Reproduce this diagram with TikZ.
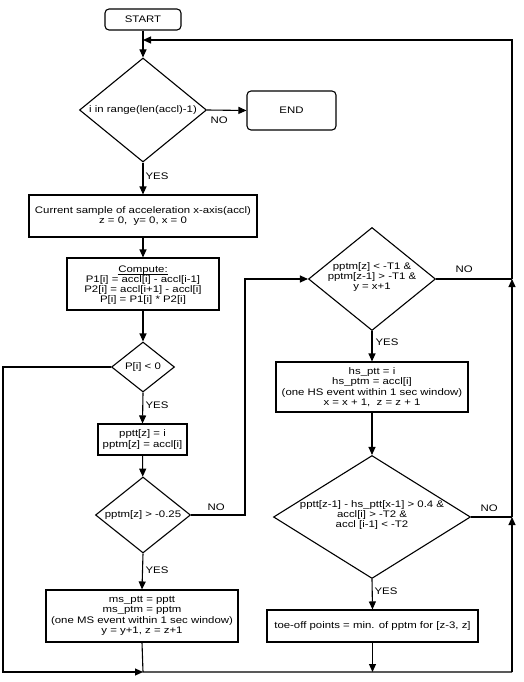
\documentclass[tikz,border=0pt]{standalone}
\usepackage{fontspec}
\setmainfont{Liberation Sans}[FakeStretch=1.2]
\usetikzlibrary{shapes.geometric,arrows.meta}
\begin{document}
\begin{tikzpicture}[x=1pt,y=-1pt,
  font=\fontsize{9.5}{10.4}\selectfont,
  line width=1.1pt,
  box/.style={draw, rectangle, inner sep=0pt, align=center},
  term/.style={draw, rectangle, rounded corners=4pt, inner sep=0pt},
  dia/.style={draw, diamond, inner sep=0pt},
  txt/.style={inner sep=0pt, align=center},
  bl/.style={inner sep=0pt, anchor=base},
  lbl/.style={inner sep=0pt, anchor=west},
  arr/.style={-{Triangle[length=8pt,width=7pt]}}]
\useasboundingbox (0,0) rectangle (524,682);

% nodes
\node[term, minimum width=76pt, minimum height=21pt] (start) at (143,19.5) {START};
\node[dia, minimum width=127pt, minimum height=104pt] (d1) at (143,110) {};
\node[txt] (d1t) at (d1) {i in range(len(accl)-1)};
\node[term, minimum width=89pt, minimum height=39pt] (end) at (291.5,110.5) {END};
\node[box, minimum width=228pt, minimum height=42pt] (b1) at (143,216)
  {Current sample of acceleration x-axis(accl)\\z = 0,\ \ y= 0, x = 0};
\node[box, minimum width=152pt, minimum height=52pt] (comp) at (143,284) {};
\node[bl] (compt) at (143,272.5) {Compute:};
\draw[line width=0.6pt] ([yshift=-1.3pt]compt.base west) -- ([yshift=-1.3pt]compt.base east);
\node[bl] (compb1) at (143,282.5) {P1[i] = accl[i] - accl[i-1]};
\node[bl] (compb2) at (143,292.5) {P2[i] = accl[i+1] - accl[i]};
\node[bl] (compb3) at (143,302.5) {P[i] = P1[i] * P2[i]};
\node[dia, minimum width=63pt, minimum height=50pt] (d2) at (143,367) {};
\node[txt] (d2t) at (d2) {P[i] < 0};
\node[box, minimum width=89pt, minimum height=31pt] (pptt) at (142.5,439.5)
  {pptt[z] = i\\pptm[z] = accl[i]};
\node[dia, minimum width=95pt, minimum height=76pt] (d3) at (143,515) {};
\node[txt] (d3t) at (d3) {pptm[z] > -0.25};
\node[box, minimum width=192pt, minimum height=52pt] (ms) at (142,616)
  {ms\_ptt = pptt\\ms\_ptm = pptm\\(one MS event within 1 sec window)\\y = y+1, z = z+1};
\node[dia, minimum width=127pt, minimum height=103pt] (d4) at (372,279) {};
\node[txt] (d4t) at (372,277) {pptm[z] < -T1 \&\\pptm[z-1] > -T1 \&\\y = x+1};
\node[box, minimum width=192pt, minimum height=50pt] (hs) at (372,387)
  {hs\_ptt = i\\hs\_ptm = accl[i]\\(one HS event within 1 sec window)\\x = x + 1,\ \ z = z + 1};
\node[dia, minimum width=197pt, minimum height=123pt] (d5) at (372,517) {};
\node[txt] (d5t) at (372,515) {pptt[z-1] - hs\_ptt[x-1] > 0.4 \&\\accl[i] > -T2 \&\\accl [i-1] < -T2};
\node[box, minimum width=211pt, minimum height=32pt] (toe) at (372.5,626)
  {toe-off points = min. of pptm for [z-3, z]};

% junction coordinates
\coordinate (jtop) at (143,40);
\coordinate (jbot) at (143,672);
\coordinate (lt) at (3,367);
\coordinate (lb) at (3,672);
\coordinate (r1) at (512,672);
\coordinate (r2) at (512,517);
\coordinate (r3) at (512,279);
\coordinate (r4) at (512,40);
\coordinate (m1) at (245,515);
\coordinate (m2) at (245,279);
\coordinate (jtoe) at (372.5,672);

% connectors
\draw[arr] (start) -- (d1);
\draw[arr] (r3) -- (r4) -- (jtop);
\draw[arr] (d1.east) -- (end.west);
\draw[arr] (d1.south) -- (b1.north);
\draw[arr] (b1) -- (comp);
\draw[arr] (comp) -- (d2);
\draw[arr] (d2.west) -- (lt) -- (lb) -- (jbot);
\draw[arr] (d2.south) -- (pptt.north);
\draw[arr] (pptt) -- (d3);
\draw[arr] (d3.east) -- (m1) -- (m2) -- (d4.west);
\draw[arr] (d3.south) -- (ms.north);
\draw (ms.south) -- (jbot) -- (r1);
\draw[arr] (r1) -- (r2);
\draw[arr] (r2) -- (r3);
\draw (d4.east) -- (r3);
\draw[arr] (d4.south) -- (hs.north);
\draw[arr] (hs) -- (d5);
\draw (d5.east) -- (r2);
\draw[arr] (d5.south) -- (toe.north);
\draw[arr] (toe.south) -- (jtoe);

% labels
\node[lbl] (no1) at (210,120) {NO};
\node[lbl] (yes1) at (145,176) {YES};
\node[lbl] (yes2) at (145,405) {YES};
\node[lbl] (no2) at (207,507) {NO};
\node[lbl] (yes3) at (145,570) {YES};
\node[lbl] (no3) at (455,269) {NO};
\node[lbl] (yes4) at (375,342) {YES};
\node[lbl] (no4) at (480,508) {NO};
\node[lbl] (yes5) at (374,591) {YES};
\end{tikzpicture}
\end{document}
